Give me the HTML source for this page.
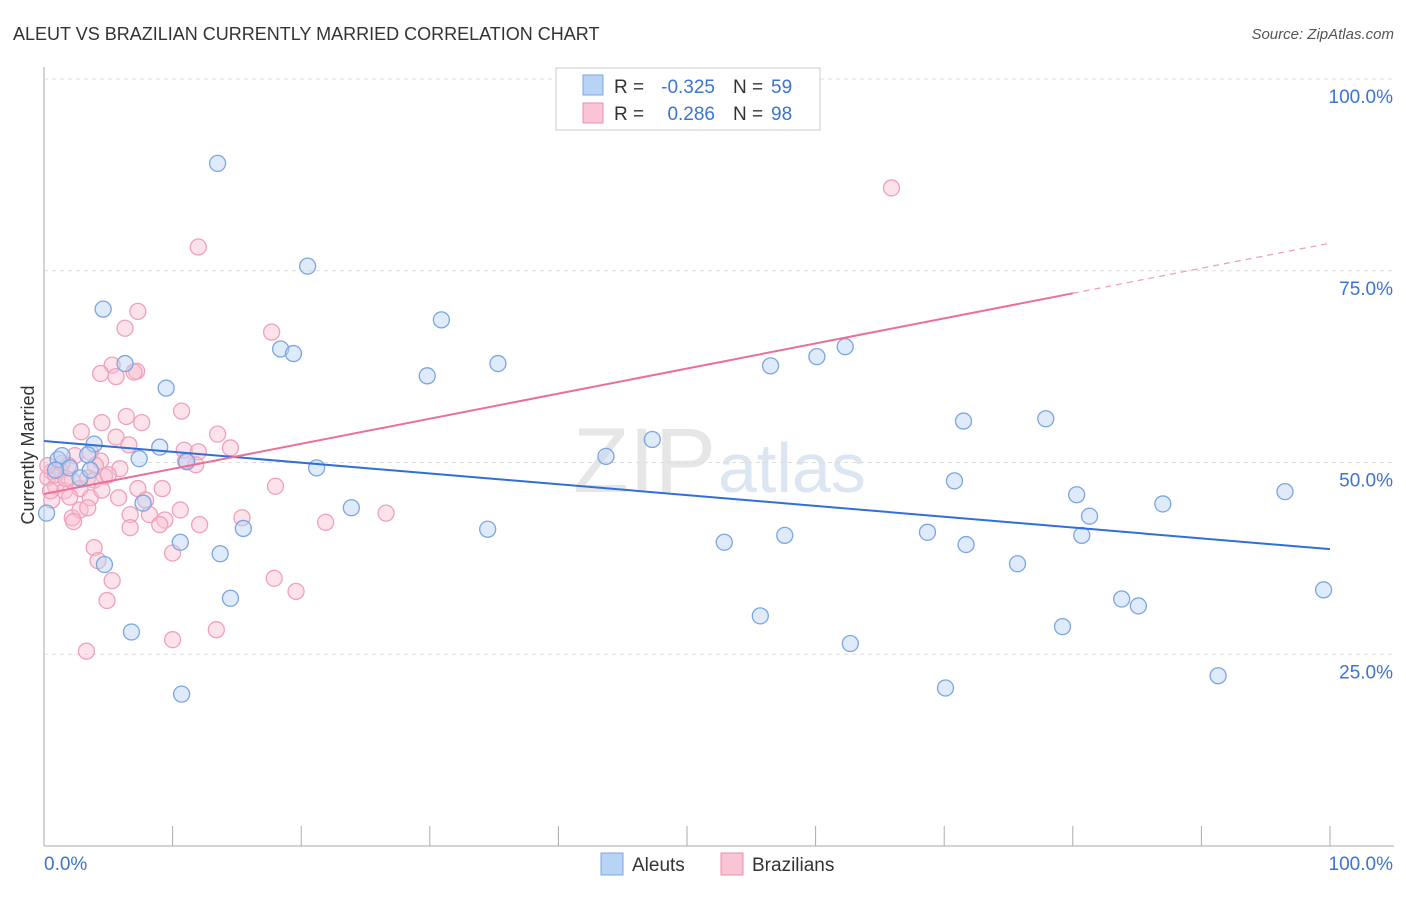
<!DOCTYPE html>
<html><head><meta charset="utf-8">
<style>
body{margin:0;background:#fff;font-family:"Liberation Sans",sans-serif;}
svg text{font-family:"Liberation Sans",sans-serif;}
</style></head>
<body>
<svg id="chart" width="1406" height="892" xmlns="http://www.w3.org/2000/svg">
<text x="13" y="40" font-size="18" fill="#333">ALEUT VS BRAZILIAN CURRENTLY MARRIED CORRELATION CHART</text>
<text x="1394" y="39" font-size="15" fill="#555" font-style="italic" text-anchor="end">Source: ZipAtlas.com</text>
<text x="716" y="492" font-size="92" fill="#e6e6e6" font-family="Liberation Serif" text-anchor="end">ZIP</text>
<text x="718" y="492" font-size="70" fill="#dce6f3">atlas</text>
<text transform="translate(34,455) rotate(-90)" font-size="18" fill="#333" text-anchor="middle">Currently Married</text>
<g id="grid"></g><g id="marks"></g>
<g>
<rect x="556" y="68" width="264" height="62" fill="#fff" stroke="#ccc"/>
<rect x="583" y="75" width="20" height="20" fill="#b9d3f5" stroke="#7aa6e0"/>
<rect x="583" y="103" width="20" height="20" fill="#f9c5d4" stroke="#ec8fac"/>
<text x="614" y="93" font-size="19" fill="#333">R =</text>
<text x="715" y="93" font-size="19" fill="#3a74d4" text-anchor="end">-0.325</text>
<text x="733" y="93" font-size="19" fill="#333">N =</text>
<text x="771" y="93" font-size="19" fill="#3a74d4">59</text>
<text x="614" y="120" font-size="19" fill="#333">R =</text>
<text x="715" y="120" font-size="19" fill="#3a74d4" text-anchor="end">0.286</text>
<text x="733" y="120" font-size="19" fill="#333">N =</text>
<text x="771" y="120" font-size="19" fill="#3a74d4">98</text>
</g>
<g>
<rect x="601" y="853" width="22" height="22" fill="#b9d3f5" stroke="#7aa6e0"/>
<text x="632" y="871" font-size="19" fill="#333">Aleuts</text>
<rect x="721" y="853" width="22" height="22" fill="#f9c5d4" stroke="#ec8fac"/>
<text x="752" y="871" font-size="19" fill="#333">Brazilians</text>
</g>
</svg>
<script>
const yTicks=[25,50,75,100];
const yTickLabels=["25.0%","50.0%","75.0%","100.0%"];
const xTicks=[0,10,20,30,40,50,60,70,80,90,100];
const blueTrend=[52.8,38.7];
const pinkTrend=[45.9,78.6];
const pinkSolidEnd=80;
const aleutX=[13.5,20.5,4.6,30.9,6.3,18.4,19.4,35.3,29.8,9.5,56.5,60.1,62.3,71.5,77.9,47.3,43.7,3.9,9.0,7.4,11.1,21.2,70.8,80.3,96.5,81.3,87.0,23.9,34.5,15.5,7.7,10.6,13.7,52.9,57.6,68.7,71.7,80.7,75.7,4.7,14.5,83.8,85.1,55.7,6.8,62.7,79.2,10.7,70.1,91.3,99.5,0.2,1.1,1.4,2.0,3.4,2.8,3.6,0.9];
const aleutY=[89.0,75.6,70.0,68.6,62.9,64.8,64.2,62.9,61.3,59.7,62.6,63.8,65.1,55.4,55.7,53.0,50.8,52.4,52.0,50.5,50.1,49.3,47.6,45.8,46.2,43.0,44.6,44.1,41.3,41.4,44.7,39.6,38.1,39.6,40.5,40.9,39.3,40.5,36.8,36.7,32.3,32.2,31.3,30.0,27.9,26.4,28.6,19.8,20.6,22.2,33.4,43.4,50.4,50.9,49.3,51.0,48.0,49.0,49.0];
const brazX=[65.9,12.0,7.3,6.3,17.7,5.3,4.4,5.6,7.2,7.0,10.7,6.4,4.5,7.6,2.9,5.6,13.5,6.6,14.5,10.9,12.0,11.8,11.0,2.4,3.6,4.4,5.9,4.0,4.7,1.9,1.2,0.6,0.3,0.9,1.6,2.2,2.8,3.4,3.9,5.0,7.3,9.2,18.0,3.6,5.8,7.9,4.5,0.6,2.0,6.7,8.2,10.6,9.4,9.0,15.4,12.1,6.7,21.9,26.6,2.2,2.8,2.3,3.4,3.9,4.2,5.3,10.0,17.9,19.6,4.9,13.4,10.0,3.3,1.4,0.9,0.3,0.5,1.7];
const brazY=[85.8,78.1,69.7,67.5,67.0,62.7,61.6,61.2,61.9,61.8,56.7,56.0,55.2,55.2,54.0,53.3,53.7,52.3,51.9,51.6,51.4,49.7,50.2,50.9,51.3,50.2,49.2,49.6,48.2,49.6,49.0,48.8,48.0,46.9,46.3,47.6,46.6,48.0,47.7,48.4,46.6,46.6,46.9,45.4,45.4,45.1,46.4,45.1,45.5,43.2,43.2,43.8,42.5,41.9,42.8,41.9,41.5,42.2,43.4,42.8,43.8,42.3,44.1,38.9,37.2,34.6,38.2,34.9,33.2,32.0,28.2,26.9,25.4,49.9,48.4,49.6,46.3,47.9];
(function(){
const L=44,R=1330,T=79,B=846;
const sx=v=>L+v*(R-L)/100, sy=v=>B-v*(B-T)/100;
const NS="http://www.w3.org/2000/svg";
function mk(tag,attrs,parent){const e=document.createElementNS(NS,tag);for(const k in attrs)e.setAttribute(k,attrs[k]);parent.appendChild(e);return e;}
const grid=document.getElementById('grid'),marks=document.getElementById('marks');
yTicks.forEach((v,i)=>{
 const g=mk('line',{x1:L,x2:1394,y1:sy(v),y2:sy(v),stroke:'#ddd','stroke-dasharray':'4,4'},grid);
 
 
 const t=mk('text',{x:1393,y:sy(v)+24,'font-size':19,fill:'#3a74d4','text-anchor':'end'},grid);
 t.textContent=yTickLabels[i];
 
 
});
const ya=mk('line',{x1:L,x2:L,y1:67,y2:B,stroke:'#aaa'},grid);


const xa=mk('line',{x1:L,x2:1394,y1:B,y2:B,stroke:'#aaa'},grid);


xTicks.forEach(v=>{
 const t=mk('line',{x1:sx(v),x2:sx(v),y1:826,y2:B,stroke:'#aaa'},grid);
 
 
});
const x0=mk('text',{x:44,y:870,'font-size':19,fill:'#3a74d4'},grid);x0.textContent='0.0%';


const x1=mk('text',{x:1393,y:870,'font-size':19,fill:'#3a74d4','text-anchor':'end'},grid);x1.textContent='100.0%';


brazX.forEach((x,i)=>{
 const c=mk('circle',{cx:sx(x),cy:sy(brazY[i]),r:8,fill:'rgba(249,190,208,0.45)',stroke:'#f0a0ba','stroke-width':1.3},marks);
 
 
});
aleutX.forEach((x,i)=>{
 const c=mk('circle',{cx:sx(x),cy:sy(aleutY[i]),r:8,fill:'rgba(185,211,245,0.45)',stroke:'#7aa6e0','stroke-width':1.3},marks);
 
 
});
const bl=mk('line',{x1:sx(0),y1:sy(blueTrend[0]),x2:sx(100),y2:sy(blueTrend[1]),stroke:'#2f6fd6','stroke-width':2},marks);


const pm=pinkTrend[0]+(pinkTrend[1]-pinkTrend[0])*pinkSolidEnd/100;
const pl=mk('line',{x1:sx(0),y1:sy(pinkTrend[0]),x2:sx(pinkSolidEnd),y2:sy(pm),stroke:'#e8709a','stroke-width':2},marks);


const pd=mk('line',{x1:sx(pinkSolidEnd),y1:sy(pm),x2:sx(100),y2:sy(pinkTrend[1]),stroke:'#f0a0ba','stroke-width':1.3,'stroke-dasharray':'6,5'},marks);


const topLine=mk('line',{x1:L,x2:1394,y1:sy(100),y2:sy(100),stroke:'#ddd','stroke-dasharray':'4,4'},grid);


})();
</script>
</body></html>
